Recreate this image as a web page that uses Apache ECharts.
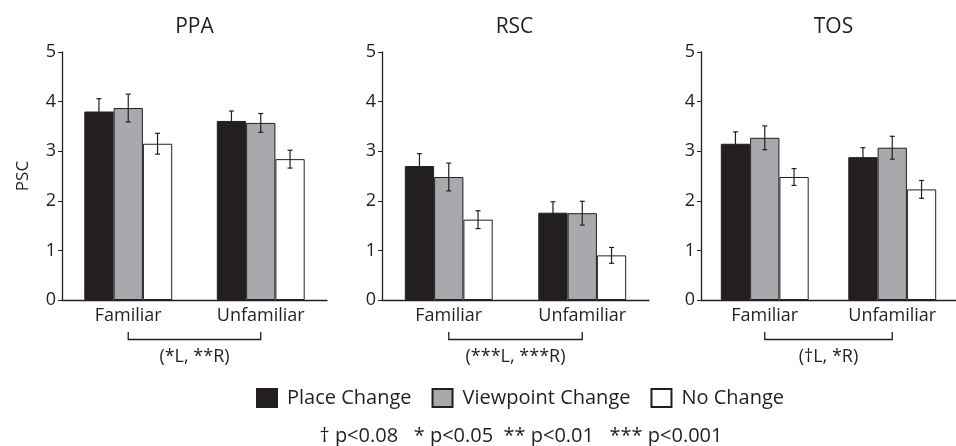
<!DOCTYPE html>
<html><head><meta charset="utf-8">
<script src="https://cdn.jsdelivr.net/npm/echarts@6/dist/echarts.min.js"></script>
<style>html,body{margin:0;padding:0;background:#fff}#c{width:956px;height:446px}</style>
</head><body><div id="c"></div>
<script>
// ---- data ----
const regions = ['PPA', 'RSC', 'TOS'];
const categories = ['Familiar', 'Unfamiliar'];
const conditions = ['Place Change', 'Viewpoint Change', 'No Change'];
const yTicks = [0, 1, 2, 3, 4, 5];
// values [Familiar, Unfamiliar]
const ppaPlace = [3.80, 3.61], ppaPlaceErr = [0.26, 0.20];
const ppaView  = [3.87, 3.57], ppaViewErr  = [0.28, 0.19];
const ppaNo    = [3.15, 2.84], ppaNoErr    = [0.21, 0.18];
const rscPlace = [2.70, 1.76], rscPlaceErr = [0.25, 0.22];
const rscView  = [2.48, 1.75], rscViewErr  = [0.28, 0.24];
const rscNo    = [1.62, 0.90], rscNoErr    = [0.18, 0.16];
const tosPlace = [3.15, 2.88], tosPlaceErr = [0.24, 0.19];
const tosView  = [3.27, 3.07], tosViewErr  = [0.24, 0.23];
const tosNo    = [2.48, 2.23], tosNoErr    = [0.17, 0.18];
const significance = ['(*L, **R)', '(***L, ***R)', '(\u2020L, *R)'];
const footnote = '\u2020 p<0.08   * p<0.05  ** p<0.01   *** p<0.001';

const values = [[ppaPlace, ppaView, ppaNo], [rscPlace, rscView, rscNo], [tosPlace, tosView, tosNo]];
const errors = [[ppaPlaceErr, ppaViewErr, ppaNoErr], [rscPlaceErr, rscViewErr, rscNoErr], [tosPlaceErr, tosViewErr, tosNoErr]];

// ---- style ----
const INK = '#231f20';
const FILLS = ['#231f20', '#a7a9ac', '#ffffff'];
const FONT = 'Open Sans';
const BW = 29.3;
const gridLeft = [62, 382, 701];
const gridW = [265, 267, 267];
const gridTop = 52, gridH = 248;

const grids = [], xAxes = [], yAxes = [], series = [], graphics = [];
regions.forEach((r, g) => {
  grids.push({left: gridLeft[g], top: gridTop, width: gridW[g], height: gridH});
  xAxes.push({type: 'category', gridIndex: g, data: categories, boundaryGap: true,
    axisLine: {lineStyle: {color: INK, width: 1.3}}, axisTick: {show: false},
    axisLabel: {color: INK, fontFamily: FONT, fontSize: 18, margin: 7}});
  yAxes.push({type: 'value', gridIndex: g, min: yTicks[0], max: yTicks[yTicks.length-1], interval: 1,
    axisLine: {show: true, lineStyle: {color: INK, width: 1.3}},
    axisTick: {show: true, length: 4, lineStyle: {color: INK, width: 1}},
    splitLine: {show: false},
    axisLabel: {color: INK, fontFamily: FONT, fontSize: 18, margin: 6},
    name: g === 0 ? 'PSC' : '', nameLocation: 'middle', nameGap: 30,
    nameTextStyle: {color: INK, fontFamily: FONT, fontSize: 17}});
  graphics.push({type: 'text', x: gridLeft[g] + 132.5, y: 27,
    style: {text: r, fill: INK, font: '21px "' + FONT + '"', textAlign: 'center', textVerticalAlign: 'middle'}});
  conditions.forEach((c, s) => {
    series.push({type: 'bar', name: c, xAxisIndex: g, yAxisIndex: g, data: values[g][s],
      barWidth: BW, barGap: '0%',
      itemStyle: {color: FILLS[s], borderColor: INK, borderWidth: 1}, animation: false});
  });
  conditions.forEach((c, s) => {
    series.push({type: 'custom', xAxisIndex: g, yAxisIndex: g, silent: true, animation: false, z: 5,
      data: values[g][s].map((v, i) => [i, v, errors[g][s][i]]),
      renderItem: (params, api) => {
        const i = api.value(0), v = api.value(1), e = api.value(2);
        const hi = api.coord([i, v + e]), lo = api.coord([i, v - e]);
        const x = hi[0] + (s - 1) * BW;
        const st = {stroke: INK, lineWidth: 1.2};
        return {type: 'group', children: [
          {type: 'line', shape: {x1: x, y1: hi[1], x2: x, y2: lo[1]}, style: st},
          {type: 'line', shape: {x1: x - 2.5, y1: hi[1], x2: x + 2.5, y2: hi[1]}, style: st},
          {type: 'line', shape: {x1: x - 2.5, y1: lo[1], x2: x + 2.5, y2: lo[1]}, style: st}
        ]};
      }});
  });
  series.push({type: 'custom', xAxisIndex: g, yAxisIndex: g, silent: true, animation: false, clip: false,
    data: [[0, 1, 0]],
    renderItem: (params, api) => {
      const p0 = api.coord([api.value(0), 0]), p1 = api.coord([api.value(1), 0]);
      const y = p0[1];
      return {type: 'group', children: [
        {type: 'polyline', shape: {points: [[p0[0], y + 32], [p0[0], y + 39.5], [p1[0], y + 39.5], [p1[0], y + 32]]},
          style: {stroke: INK, lineWidth: 1.3, fill: null}},
        {type: 'text', style: {x: (p0[0] + p1[0]) / 2, y: y + 57, text: significance[g], fill: INK,
          font: '18px "' + FONT + '"', textAlign: 'center', textVerticalAlign: 'middle'}}
      ]};
    }});
});
graphics.push({type: 'text', x: 521, y: 436,
  style: {text: footnote, fill: INK, font: '20px "' + FONT + '"', textAlign: 'center', textVerticalAlign: 'middle'}});

const chart = echarts.init(document.getElementById('c'), null, {renderer: 'canvas'});
chart.setOption({
  animation: false,
  backgroundColor: '#fff',
  grid: grids, xAxis: xAxes, yAxis: yAxes, series: series,
  legend: {data: conditions, left: 256, top: 388, padding: 0, itemWidth: 20, itemHeight: 18, itemGap: 20,
    icon: 'rect', textStyle: {color: INK, fontFamily: FONT, fontSize: 20, padding: [0, 0, 0, 5]}},
  graphic: graphics
});
</script></body></html>
